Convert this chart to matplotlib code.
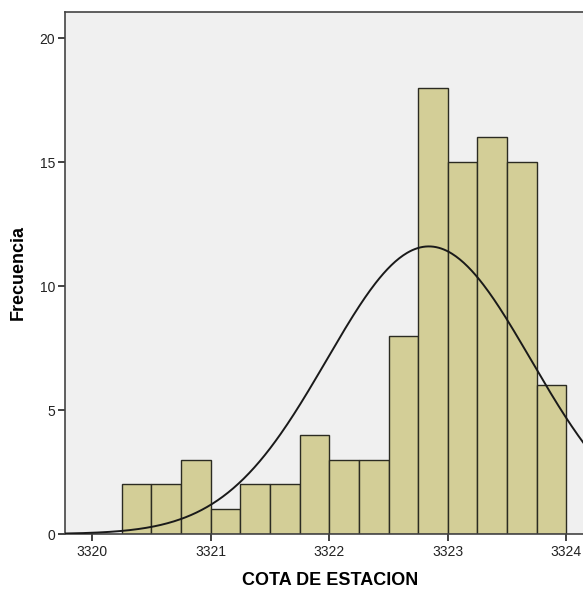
import numpy as np
import matplotlib
matplotlib.use("Agg")
import matplotlib.pyplot as plt

plt.rcParams["font.family"] = ["Liberation Sans", "DejaVu Sans"]

# histogram of station elevations
bin_start = 3320.25
bin_width = 0.25
counts = [2, 2, 3, 1, 2, 2, 4, 3, 3, 8, 18, 15, 16, 15, 6]

# normal curve parameters (estimated from the curve's peak and spread)
curve_mean = 3322.84
curve_sd = 0.86
n_total = sum(counts)

x_ticks = [3320, 3321, 3322, 3323, 3324]
y_ticks = [0, 5, 10, 15, 20]

fig = plt.figure(figsize=(5.83, 5.95), dpi=100)
ax = fig.add_axes([65 / 583, 61 / 595, 1 - 65 / 583, (534 - 12) / 595])
ax.set_facecolor("#f0f0f0")

lefts = bin_start + bin_width * np.arange(len(counts))
ax.bar(lefts, counts, width=bin_width, align="edge",
       color="#d3ce97", edgecolor="#2b2b22", linewidth=1.0, zorder=2)

xs = np.linspace(3319.77, 3324.2, 400)
pdf = np.exp(-0.5 * ((xs - curve_mean) / curve_sd) ** 2) / (curve_sd * np.sqrt(2 * np.pi))
ax.plot(xs, n_total * bin_width * pdf, color="#1a1a1a", linewidth=1.4, zorder=3)

ax.set_xlim(3319.772, 3324.14)
ax.set_ylim(0, 21.05)
ax.set_xticks(x_ticks)
ax.set_yticks(y_ticks)
ax.tick_params(axis="both", direction="out", length=5, width=1.2,
               labelsize=10, colors="#222222")
ax.tick_params(axis="x", pad=3)
ax.tick_params(axis="y", pad=2)

ax.spines["right"].set_visible(False)
for side in ["left", "bottom", "top"]:
    ax.spines[side].set_color("#444444")
    ax.spines[side].set_linewidth(1.2)

ax.set_xlabel("COTA DE ESTACION", fontsize=13, fontweight="bold")
ax.set_ylabel("Frecuencia", fontsize=13, fontweight="bold")
ax.xaxis.set_label_coords((330 - 65) / 518, -(572 - 534) / 522)
ax.yaxis.set_label_coords((27 - 65) / 518, (534 - 272) / 522)

fig.savefig("out.png", dpi=100, facecolor="white")
